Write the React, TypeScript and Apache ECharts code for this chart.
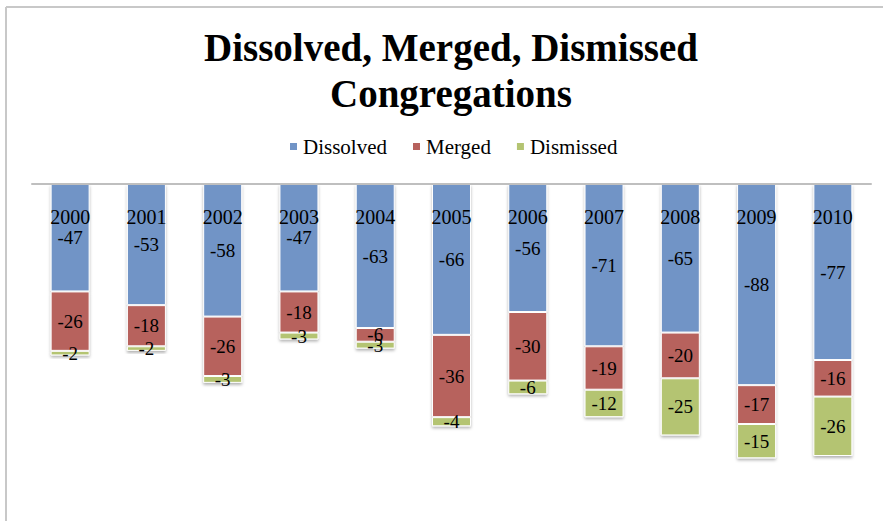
import React, { useEffect, useRef } from "react";
import * as echarts from "echarts";

const years = ["2000", "2001", "2002", "2003", "2004", "2005", "2006", "2007", "2008", "2009", "2010"];
const dissolved = [-47, -53, -58, -47, -63, -66, -56, -71, -65, -88, -77];
const merged = [-26, -18, -26, -18, -6, -36, -30, -19, -20, -17, -16];
const dismissed = [-2, -2, -3, -3, -3, -4, -6, -12, -25, -15, -26];

const FONT = "'Liberation Serif', 'DejaVu Serif', serif";

export default function App() {
  const ref = useRef<HTMLDivElement>(null);
  useEffect(() => {
    if (!ref.current) return;
    const chart = echarts.init(ref.current, undefined, { renderer: "svg" });
    const itemStyle = (color: string) => ({
      color,
      borderColor: "#ffffff",
      borderWidth: 1,
      shadowColor: "rgba(0,0,0,0.3)",
      shadowBlur: 3,
      shadowOffsetY: 2,
    });
    const label = {
      show: true,
      position: "inside",
      color: "#000",
      fontSize: 19,
      fontFamily: FONT,
    };
    const mk = (name: string, data: number[], color: string) => ({
      name,
      type: "bar",
      stack: "total",
      data,
      barWidth: 39,
      itemStyle: itemStyle(color),
      label,
    });
    chart.setOption({
      animation: false,
      backgroundColor: "#ffffff",
      title: {
        text: "Dissolved, Merged, Dismissed\nCongregations",
        left: 451,
        textAlign: "center",
        top: 24,
        padding: 0,
        textStyle: {
          fontFamily: FONT,
          fontWeight: "bold",
          fontSize: 39,
          lineHeight: 46,
          color: "#000",
        },
      },
      legend: {
        data: ["Dissolved", "Merged", "Dismissed"],
        left: 283,
        top: 131,
        itemWidth: 9,
        itemHeight: 9,
        itemGap: 24,
        icon: "rect",
        textStyle: { fontFamily: FONT, fontSize: 21, color: "#000" },
      },
      grid: { left: 32, right: 12, top: 184, bottom: 17 },
      xAxis: {
        type: "category",
        data: years,
        position: "top",
        z: 10,
        axisLine: { lineStyle: { color: "#bfbfbf", width: 2 } },
        axisTick: { show: false },
        axisLabel: {
          inside: true,
          margin: 23,
          color: "#000",
          fontSize: 20,
          fontFamily: FONT,
        },
      },
      yAxis: {
        type: "value",
        min: -140,
        max: 0,
        show: false,
        splitLine: { show: false },
      },
      series: [
        mk("Dissolved", dissolved, "#7194C6"),
        mk("Merged", merged, "#B7625D"),
        mk("Dismissed", dismissed, "#B4C472"),
      ],
      graphic: [
        { type: "line", shape: { x1: 6, y1: 7, x2: 6, y2: 521 }, style: { stroke: "#c8c8c8", lineWidth: 2 } },
        { type: "line", shape: { x1: 6, y1: 7, x2: 883, y2: 7 }, style: { stroke: "#c8c8c8", lineWidth: 2 } },
      ],
    });
    return () => chart.dispose();
  }, []);
  return (
    <div
      ref={ref}
      style={{ position: "absolute", left: 0, top: 0, width: 883, height: 521 }}
    />
  );
}
